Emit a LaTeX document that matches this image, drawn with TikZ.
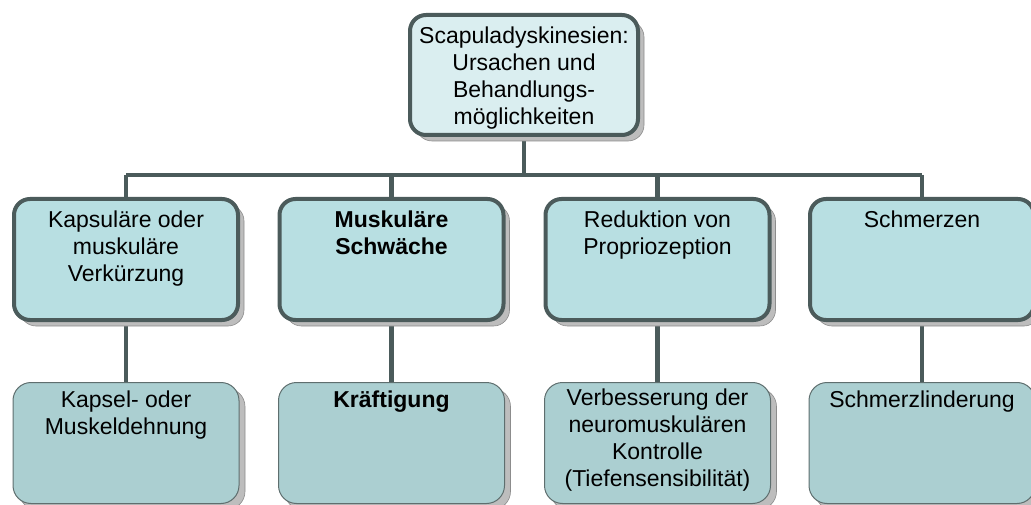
\documentclass[tikz,border=0pt]{standalone}
\usepackage{fontspec}
\setmainfont{Liberation Sans}
\usetikzlibrary{shadows}
\definecolor{bordc}{HTML}{4B5B5B}
\definecolor{topfill}{HTML}{DAEEF0}
\definecolor{midfill}{HTML}{B8DFE2}
\definecolor{lowfill}{HTML}{ABCFD1}
\definecolor{lowbord}{HTML}{5E6E6E}
\definecolor{shadc}{HTML}{BDBDBD}
\tikzset{
  shad/.style={general shadow={shadow xshift=6pt, shadow yshift=-6pt, fill=shadc, draw=black!45, line width=0.6pt}},
  topbox/.style={shad, draw=bordc, line width=4pt, fill=topfill, rounded corners=16pt, minimum width=228pt, minimum height=120pt, inner sep=0pt},
  midbox/.style={shad, draw=bordc, line width=4pt, fill=midfill, rounded corners=16pt, minimum width=224pt, minimum height=121pt, inner sep=0pt},
  lowbox/.style={shad, draw=lowbord, line width=1pt, fill=lowfill, rounded corners=18pt, minimum width=226pt, minimum height=121pt, inner sep=0pt},
  txt/.style={anchor=north, inner sep=0pt, align=center, font=\fontsize{23}{27}\selectfont, text=black},
  conn/.style={draw=bordc, line width=4.5pt},
}
\begin{document}
\begin{tikzpicture}[x=1pt,y=-1pt]
\useasboundingbox (0,0) rectangle (1031,505);
\clip (0,0) rectangle (1031,505);
\coordinate (bus) at (524,175);
% connectors first (behind boxes)
\coordinate (tS) at (524,136);
\coordinate (m1N) at (126,199);
\coordinate (m2N) at (391.5,199);
\coordinate (m3N) at (657.5,199);
\coordinate (m4N) at (922,199);
\draw[conn] (tS) -- (tS |- bus);
\draw[conn] (m1N |- bus) -- (m4N |- bus);
\foreach \c/\x in {1/126,2/391.5,3/657.5,4/922}{
  \draw[conn] (\x,175) -- (\x,200);
  \draw[conn] (\x,320) -- (\x,383);
}
% top
\node[topbox] (top) at (524,75) {};
\node[txt] (ttop) at (524,26.5) {Scapuladyskinesien:\\Ursachen und\\Behandlungs-\\möglichkeiten};
% middle row
\node[midbox] (m1) at (126,259.5) {};
\node[midbox] (m2) at (391.5,259.5) {};
\node[midbox] (m3) at (657.5,259.5) {};
\node[midbox] (m4) at (922,259.5) {};
\node[txt] (tm1) at (m1.center |- 0,210.5) {Kapsuläre oder\\muskuläre\\Verkürzung};
\node[txt,font=\fontsize{23}{27}\selectfont\bfseries] (tm2) at (m2.center |- 0,210.5) {Muskuläre\\Schwäche};
\node[txt] (tm3) at (m3.center |- 0,210.5) {Reduktion von\\Propriozeption};
\node[txt] (tm4) at (m4.center |- 0,210.5) {Schmerzen};
% lower row
\node[lowbox] (l1) at (126,443) {};
\node[lowbox] (l2) at (391.5,443) {};
\node[lowbox] (l3) at (657.5,443) {};
\node[lowbox] (l4) at (922,443) {};
\node[txt] (tl1) at (l1.center |- 0,391) {Kapsel- oder\\Muskeldehnung};
\node[txt,font=\fontsize{23}{27}\selectfont\bfseries] (tl2) at (l2.center |- 0,391) {Kräftigung};
\node[txt] (tl3) at (l3.center |- 0,388.5) {Verbesserung der\\neuromuskulären\\Kontrolle\\(Tiefensensibilität)};
\node[txt] (tl4) at (l4.center |- 0,391) {Schmerzlinderung};
\end{tikzpicture}
\end{document}
